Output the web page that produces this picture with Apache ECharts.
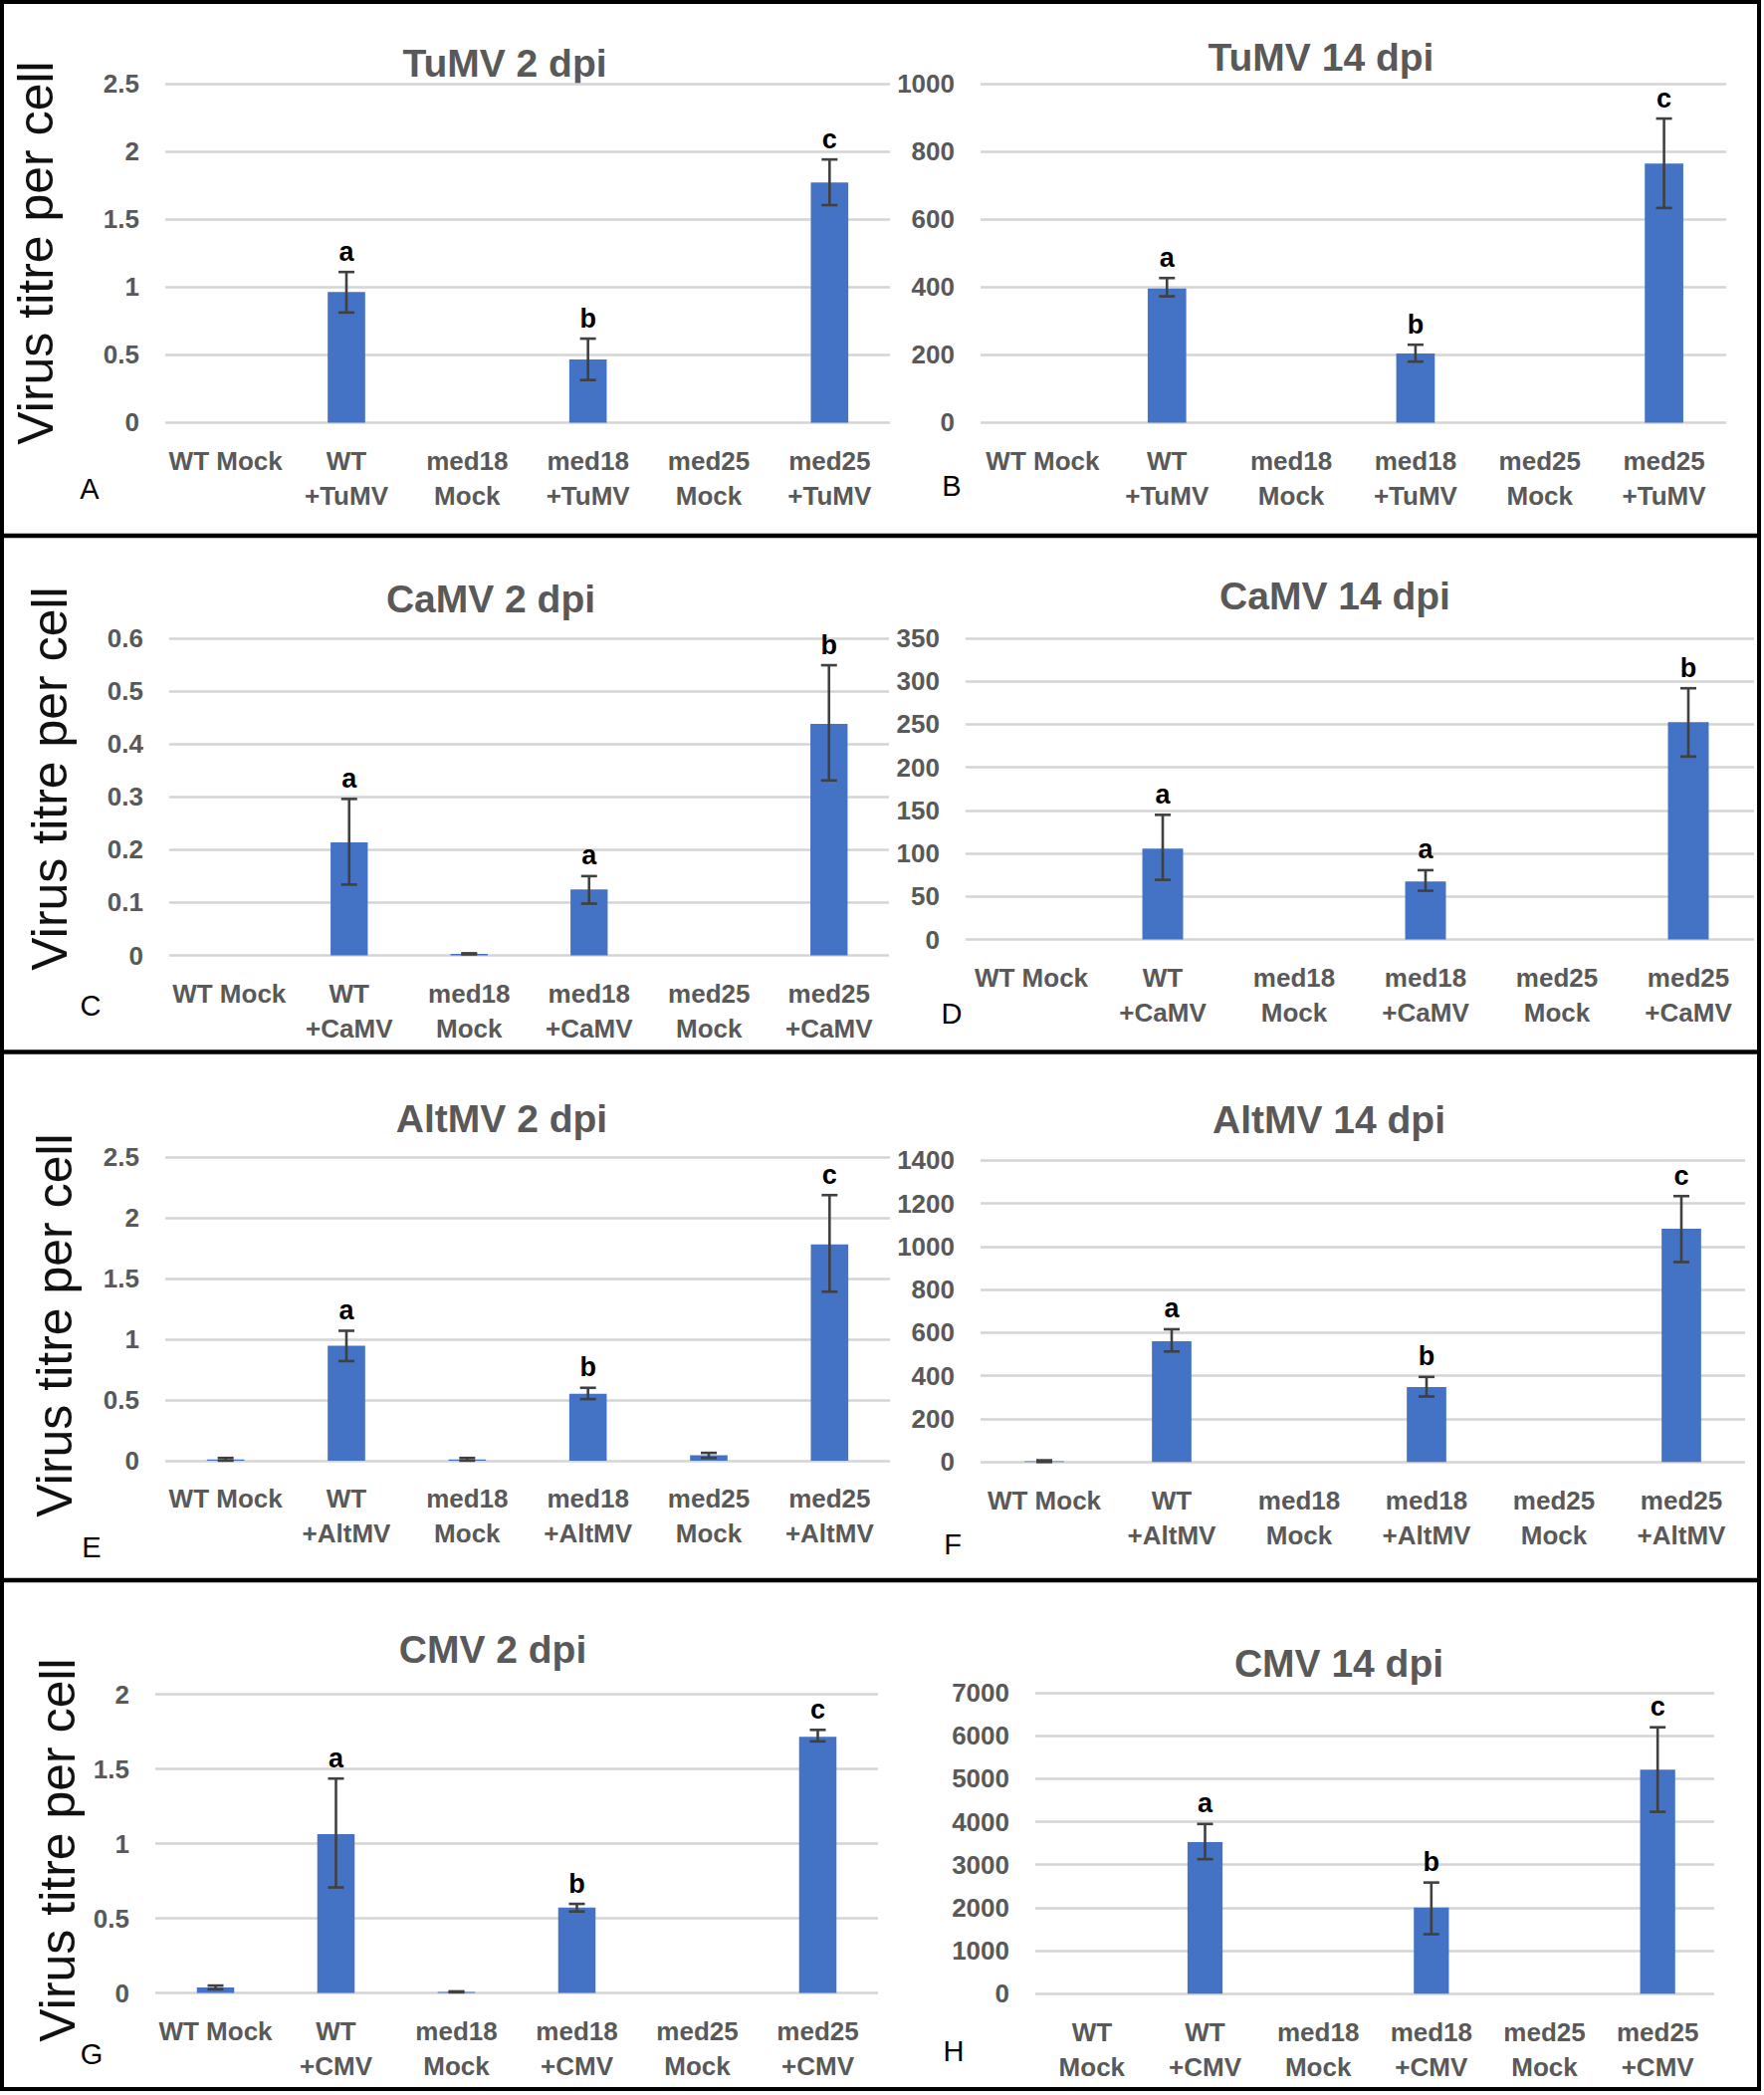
<!DOCTYPE html>
<html><head><meta charset="utf-8">
<script src="https://cdn.jsdelivr.net/npm/echarts@6/dist/echarts.min.js"></script>
<style>html,body{margin:0;padding:0;background:#fff}#c{width:1772px;height:2104px}</style>
</head><body><div id="c"></div>
<script>
// ---------- categories ----------
const catsTuMV  = ['WT Mock', 'WT\n+TuMV', 'med18\nMock', 'med18\n+TuMV', 'med25\nMock', 'med25\n+TuMV'];
const catsCaMV  = ['WT Mock', 'WT\n+CaMV', 'med18\nMock', 'med18\n+CaMV', 'med25\nMock', 'med25\n+CaMV'];
const catsAltMV = ['WT Mock', 'WT\n+AltMV', 'med18\nMock', 'med18\n+AltMV', 'med25\nMock', 'med25\n+AltMV'];
const catsCMV2  = ['WT Mock', 'WT\n+CMV', 'med18\nMock', 'med18\n+CMV', 'med25\nMock', 'med25\n+CMV'];
const catsCMV14 = ['WT\nMock', 'WT\n+CMV', 'med18\nMock', 'med18\n+CMV', 'med25\nMock', 'med25\n+CMV'];

// ---------- titles ----------
const titles = ['TuMV 2 dpi', 'TuMV 14 dpi', 'CaMV 2 dpi', 'CaMV 14 dpi', 'AltMV 2 dpi', 'AltMV 14 dpi', 'CMV 2 dpi', 'CMV 14 dpi'];
const panelLetters = ['A', 'B', 'C', 'D', 'E', 'F', 'G', 'H'];
const yName = 'Virus titre per cell';

// ---------- values (mean, error low, error high, significance) ----------
const tumv2Mean = [0, 0.965, 0, 0.466, 0, 1.773];
const tumv2Low  = [null, 0.813, null, 0.314, null, 1.606];
const tumv2High = [null, 1.112, null, 0.62, null, 1.943];
const tumv2Sig  = ['', 'a', '', 'b', '', 'c'];

const tumv14Mean = [0, 396, 0, 204, 0, 765];
const tumv14Low  = [null, 373, null, 180, null, 634];
const tumv14High = [null, 427, null, 230, null, 898];
const tumv14Sig  = ['', 'a', '', 'b', '', 'c'];

const camv2Mean = [0, 0.214, 0.003, 0.125, 0, 0.438];
const camv2Low  = [null, 0.134, 0.002, 0.098, null, 0.331];
const camv2High = [null, 0.296, 0.004, 0.150, null, 0.549];
const camv2Sig  = ['', 'a', '', 'a', '', 'b'];

const camv14Mean = [0, 105.5, 0, 67.4, 0, 252.6];
const camv14Low  = [null, 69.3, null, 56.6, null, 212.5];
const camv14High = [null, 144.8, null, 80.5, null, 291.9];
const camv14Sig  = ['', 'a', '', 'a', '', 'b'];

const altmv2Mean = [0.01, 0.947, 0.01, 0.551, 0.045, 1.782];
const altmv2Low  = [0.0, 0.82, 0.0, 0.507, 0.022, 1.392];
const altmv2High = [0.022, 1.07, 0.022, 0.60, 0.064, 2.188];
const altmv2Sig  = ['', 'a', '', 'b', '', 'c'];

const altmv14Mean = [4, 561, 0, 348, 0, 1083];
const altmv14Low  = [0, 513, null, 304, null, 928];
const altmv14High = [8, 616, null, 395, null, 1234];
const altmv14Sig  = ['', 'a', '', 'b', '', 'c'];

const cmv2Mean = [0.037, 1.064, 0.008, 0.573, 0, 1.716];
const cmv2Low  = [0.025, 0.707, 0.005, 0.546, null, 1.685];
const cmv2High = [0.05, 1.436, 0.011, 0.597, null, 1.762];
const cmv2Sig  = ['', 'a', '', 'b', '', 'c'];

const cmv14Mean = [0, 3527, 0, 2004, 0, 5210];
const cmv14Low  = [null, 3129, null, 1385, null, 4231];
const cmv14High = [null, 3948, null, 2586, null, 6197];
const cmv14Sig  = ['', 'a', '', 'b', '', 'c'];

// ---------- axis scales ----------
const yMax      = [2.5, 1000, 0.6, 350, 2.5, 1400, 2, 7000];
const yInterval = [0.5, 200, 0.1, 50, 0.5, 200, 0.5, 1000];

// ---------- layout ----------
const panels = [
  {grid:{left:166, top:84.4, width:728, height:340}, cats:catsTuMV, mean:tumv2Mean, low:tumv2Low, high:tumv2High, sig:tumv2Sig,
   title:[507, 63], letter:[90, 491], yname:[36, 254]},
  {grid:{left:985, top:84.4, width:749, height:340}, cats:catsTuMV, mean:tumv14Mean, low:tumv14Low, high:tumv14High, sig:tumv14Sig,
   title:[1327, 57], letter:[956, 488]},
  {grid:{left:170, top:641, width:723, height:318.5}, cats:catsCaMV, mean:camv2Mean, low:camv2Low, high:camv2High, sig:camv2Sig,
   title:[493, 601], letter:[91, 1010], yname:[50, 782]},
  {grid:{left:970, top:641, width:792, height:302.5}, cats:catsCaMV, mean:camv14Mean, low:camv14Low, high:camv14High, sig:camv14Sig,
   title:[1341, 598], letter:[956, 1018]},
  {grid:{left:166, top:1162.2, width:728, height:304.7}, cats:catsAltMV, mean:altmv2Mean, low:altmv2Low, high:altmv2High, sig:altmv2Sig,
   title:[504, 1123], letter:[92, 1554], yname:[55, 1331]},
  {grid:{left:985, top:1165.3, width:768, height:303}, cats:catsAltMV, mean:altmv14Mean, low:altmv14Low, high:altmv14High, sig:altmv14Sig,
   title:[1335, 1124], letter:[957, 1551]},
  {grid:{left:156, top:1701.6, width:726, height:300}, cats:catsCMV2, mean:cmv2Mean, low:cmv2Low, high:cmv2High, sig:cmv2Sig,
   title:[495, 1656], letter:[92, 2063], yname:[58, 1858]},
  {grid:{left:1040, top:1700, width:682, height:302.3}, cats:catsCMV14, mean:cmv14Mean, low:cmv14Low, high:cmv14High, sig:cmv14Sig,
   title:[1345, 1670], letter:[958, 2060]}
];

const FONT = '"Liberation Sans", Arial, sans-serif';
const GRAY = '#595959';

function makeErr(sig) {
  return function (params, api) {
    const i = api.value(0);
    const lo = api.coord([i, api.value(1)]);
    const hi = api.coord([i, api.value(2)]);
    const x = lo[0];
    const cap = 8;
    const st = {stroke: '#404040', lineWidth: 2.6};
    const children = [
      {type: 'line', shape: {x1: x, y1: lo[1], x2: x, y2: hi[1]}, style: st},
      {type: 'line', shape: {x1: x - cap, y1: lo[1], x2: x + cap, y2: lo[1]}, style: st},
      {type: 'line', shape: {x1: x - cap, y1: hi[1], x2: x + cap, y2: hi[1]}, style: st}
    ];
    const s = sig[i];
    if (s) {
      children.push({type: 'text', x: x, y: hi[1] - 7,
        style: {text: s, font: 'bold 27px ' + FONT, fill: '#000', align: 'center', verticalAlign: 'bottom'}});
    }
    return {type: 'group', children: children};
  };
}

const grids = [], xAxes = [], yAxes = [], series = [], graphics = [];
panels.forEach((p, k) => {
  grids.push(Object.assign({containLabel: false}, p.grid));
  xAxes.push({
    type: 'category', gridIndex: k, data: p.cats,
    axisLine: {show: false}, axisTick: {show: false},
    axisLabel: {interval: 0, color: GRAY, fontFamily: FONT, fontWeight: 'bold', fontSize: 26, lineHeight: 35, margin: 21}
  });
  yAxes.push({
    type: 'value', gridIndex: k, min: 0, max: yMax[k], interval: yInterval[k],
    axisLine: {show: false}, axisTick: {show: false},
    splitLine: {show: true, lineStyle: {color: '#D4D4D4', width: 2.6}},
    axisLabel: {color: GRAY, fontFamily: FONT, fontWeight: 'bold', fontSize: 26, margin: 26,
                formatter: v => String(+(+v).toFixed(6))}
  });
  series.push({
    type: 'bar', xAxisIndex: k, yAxisIndex: k, data: p.mean, barWidth: '31%',
    itemStyle: {color: '#4472C4'}, silent: true, animation: false
  });
  const errData = [];
  p.low.forEach((lo, i) => { if (lo !== null && p.high[i] !== null) errData.push([i, lo, p.high[i]]); });
  series.push({
    type: 'custom', xAxisIndex: k, yAxisIndex: k, data: errData,
    encode: {x: 0, y: [1, 2]}, renderItem: makeErr(p.sig), z: 5, silent: true, animation: false
  });
  graphics.push({type: 'text', x: p.title[0], y: p.title[1],
    style: {text: titles[k], font: 'bold 39px ' + FONT, fill: GRAY, align: 'center', verticalAlign: 'middle',
            textAlign: 'center', textVerticalAlign: 'middle'}});
  graphics.push({type: 'text', x: p.letter[0], y: p.letter[1],
    style: {text: panelLetters[k], font: '29px ' + FONT, fill: '#000', align: 'center', verticalAlign: 'middle',
            textAlign: 'center', textVerticalAlign: 'middle'}});
  if (p.yname) {
    graphics.push({type: 'text', x: p.yname[0], y: p.yname[1], rotation: Math.PI / 2,
      style: {text: yName, font: '50px ' + FONT, fill: '#111', align: 'center', verticalAlign: 'middle',
              textAlign: 'center', textVerticalAlign: 'middle'}});
  }
});

// frame and separators
graphics.push({type: 'rect', shape: {x: 2, y: 2, width: 1765, height: 2096}, style: {fill: 'none', stroke: '#000', lineWidth: 4}});
[538, 1056.5, 1587].forEach(y => {
  graphics.push({type: 'line', shape: {x1: 2, y1: y, x2: 1767, y2: y}, style: {stroke: '#000', lineWidth: 4.5}});
});

const chart = echarts.init(document.getElementById('c'), null, {renderer: 'svg'});
chart.setOption({
  backgroundColor: '#fff',
  animation: false,
  grid: grids, xAxis: xAxes, yAxis: yAxes, series: series,
  graphic: {elements: graphics}
});
</script>
</body></html>
